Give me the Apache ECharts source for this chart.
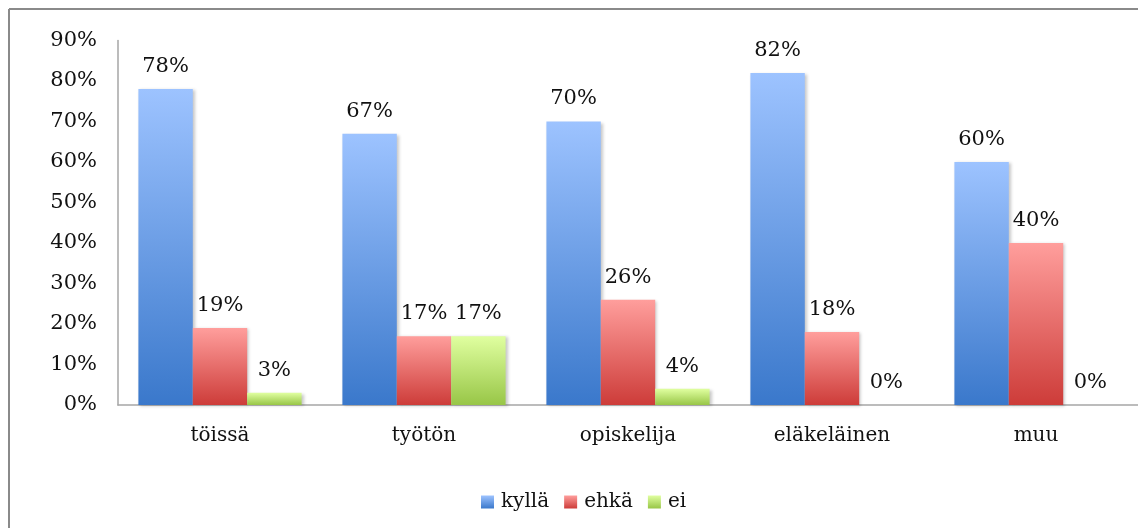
<!DOCTYPE html>
<html>
<head>
<meta charset="utf-8">
<script src="https://cdn.jsdelivr.net/npm/echarts@6/dist/echarts.min.js"></script>
<style>
  html, body { margin: 0; padding: 0; background: #ffffff; overflow: hidden; }
  #chart { width: 1138px; height: 528px; }
</style>
</head>
<body>
<div id="chart"></div>
<script>
// Survey answers by employment status (% of respondents)
const categories = ['töissä', 'työtön', 'opiskelija', 'eläkeläinen', 'muu'];
const seriesNames = ['kyllä', 'ehkä', 'ei'];
const kylla = [78, 67, 70, 82, 60];
const ehka = [19, 17, 26, 18, 40];
const ei = [3, 17, 4, 0, 0];
const yTicks = { min: 0, max: 90, interval: 10 };

const FONT = '"DejaVu Serif", "Liberation Serif", serif';
const TEXT = '#111111';

function grad(top, bottom) {
  return new echarts.graphic.LinearGradient(0, 0, 0, 1, [
    { offset: 0, color: top },
    { offset: 1, color: bottom }
  ]);
}

const palette = [
  grad('#9dc3ff', '#3a78cb'),
  grad('#ff9e9c', '#cd3c39'),
  grad('#e0ffa0', '#98c647')
];

function barSeries(name, data, color) {
  return {
    name: name,
    type: 'bar',
    data: data,
    barGap: '0%',
    barCategoryGap: '20%',
    itemStyle: {
      color: color,
      shadowColor: 'rgba(0,0,0,0.22)',
      shadowBlur: 3,
      shadowOffsetX: 2,
      shadowOffsetY: 1
    },
    label: {
      show: true,
      position: 'top',
      distance: 12,
      formatter: '{c}%',
      fontFamily: FONT,
      fontSize: 21,
      color: TEXT
    }
  };
}

// chart frame: only the left and top edges fall inside the canvas
const frameStyle = { stroke: '#8a8a8a', lineWidth: 2 };

const chart = echarts.init(document.getElementById('chart'), null, { renderer: 'canvas' });
chart.setOption({
  animation: false,
  backgroundColor: '#ffffff',
  graphic: [
    { type: 'line', shape: { x1: 9, y1: 9, x2: 1138, y2: 9 }, style: frameStyle, silent: true },
    { type: 'line', shape: { x1: 9, y1: 9, x2: 9, y2: 528 }, style: frameStyle, silent: true }
  ],
  grid: { left: 118, top: 40.5, bottom: 123, right: -5 },
  legend: {
    data: seriesNames,
    left: 476,
    top: 487,
    icon: 'rect',
    itemWidth: 13,
    itemHeight: 13,
    itemGap: 15,
    textStyle: { fontFamily: FONT, fontSize: 20, color: TEXT, padding: [0, 0, 0, 2] }
  },
  xAxis: {
    type: 'category',
    data: categories,
    axisLine: { lineStyle: { color: '#a6a6a6', width: 1.5 } },
    axisTick: { show: false },
    axisLabel: { margin: 21, fontFamily: FONT, fontSize: 20, color: TEXT }
  },
  yAxis: {
    type: 'value',
    min: yTicks.min,
    max: yTicks.max,
    interval: yTicks.interval,
    axisLine: { show: true, lineStyle: { color: '#a6a6a6', width: 1.5 } },
    axisTick: { show: false },
    splitLine: { show: false },
    axisLabel: { margin: 21, formatter: '{value}%', fontFamily: FONT, fontSize: 21, color: TEXT }
  },
  series: [
    barSeries(seriesNames[0], kylla, palette[0]),
    barSeries(seriesNames[1], ehka, palette[1]),
    barSeries(seriesNames[2], ei, palette[2])
  ]
});
</script>
</body>
</html>
